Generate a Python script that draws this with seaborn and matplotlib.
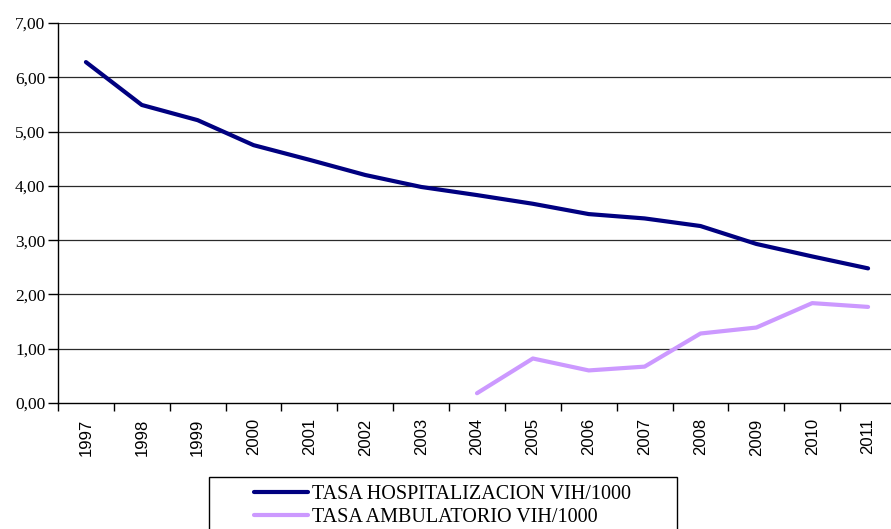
import numpy as np
import pandas as pd
import matplotlib
matplotlib.use("Agg")
import matplotlib.pyplot as plt
import seaborn as sns
from matplotlib.patches import Rectangle
from matplotlib.ticker import FuncFormatter, FixedLocator

years = ['1997', '1998', '1999', '2000', '2001', '2002', '2003', '2004',
         '2005', '2006', '2007', '2008', '2009', '2010', '2011']
hospitalizacion = [6.28, 5.49, 5.21, 4.75, 4.48, 4.20, 3.98, 3.83,
                   3.67, 3.48, 3.40, 3.26, 2.93, 2.70, 2.48]
ambulatorio = [np.nan, np.nan, np.nan, np.nan, np.nan, np.nan, np.nan, 0.18,
               0.82, 0.60, 0.67, 1.28, 1.39, 1.84, 1.77]
series_names = ['TASA HOSPITALIZACION VIH/1000', 'TASA AMBULATORIO VIH/1000']
colores = {series_names[0]: '#000080', series_names[1]: '#CC99FF'}

df = pd.DataFrame({
    'Año': years * 2,
    'Tasa': hospitalizacion + ambulatorio,
    'Serie': [series_names[0]] * len(years) + [series_names[1]] * len(years),
})

sns.set_style('white')
plt.rcParams['font.family'] = ['Liberation Serif', 'DejaVu Serif']
plt.rcParams['text.color'] = 'black'
plt.rcParams['xtick.color'] = 'black'
plt.rcParams['ytick.color'] = 'black'

fig = plt.figure(figsize=(8.91, 5.29), dpi=100)
ax = fig.add_axes([58 / 891, 1 - 403 / 529, 838 / 891, 380 / 529])

sns.lineplot(data=df, x='Año', y='Tasa', hue='Serie', palette=colores,
             linewidth=3, ax=ax, legend=False)

ax.set_xlim(-0.5, len(years) - 0.5)
ax.set_ylim(0, 7)
ax.set_xlabel('')
ax.set_ylabel('')

# lineas horizontales
for v in range(1, 8):
    ax.axhline(v, color='#2a2a2a', linewidth=0.9, zorder=0)

for s in ['top', 'right']:
    ax.spines[s].set_visible(False)
ax.spines['left'].set_color('black')
ax.spines['bottom'].set_color('black')
ax.spines['left'].set_linewidth(1)
ax.spines['bottom'].set_linewidth(1)

ax.yaxis.set_major_locator(FixedLocator(range(0, 8)))
ax.yaxis.set_major_formatter(FuncFormatter(lambda v, p: f'{v:.2f}'.replace('.', ',')))
ax.tick_params(axis='y', which='major', direction='out', length=7, width=1,
               color='black', labelcolor='black', left=True, labelsize=12.5, pad=2)

ax.set_xticks(range(len(years)))
ax.set_xticklabels(years, rotation=90, fontfamily='Liberation Sans', fontsize=12)
ax.tick_params(axis='x', which='major', length=0, pad=11, labelcolor='black')
ax.xaxis.set_minor_locator(FixedLocator(np.arange(-0.5, len(years), 1)))
ax.tick_params(axis='x', which='minor', direction='out', length=6, width=1,
               color='black', bottom=True)

# leyenda sin marco + recuadro aparte (cortado por abajo como en el original)
handles = [plt.Line2D([], [], color=colores[n], linewidth=3) for n in series_names]
leg = fig.legend(handles, series_names, loc='upper left',
                 bbox_to_anchor=(254 / 891, 1 - 485 / 529),
                 fontsize=14.5, frameon=False, handlelength=2.7,
                 handletextpad=0.2, borderpad=0, labelspacing=0.2,
                 borderaxespad=0)
marco = Rectangle((209 / 891, 1 - 545 / 529), 468 / 891, 68 / 529,
                  transform=fig.transFigure, fill=False, edgecolor='black',
                  linewidth=1, clip_on=False)
fig.add_artist(marco)

fig.savefig('out.png', dpi=100)
